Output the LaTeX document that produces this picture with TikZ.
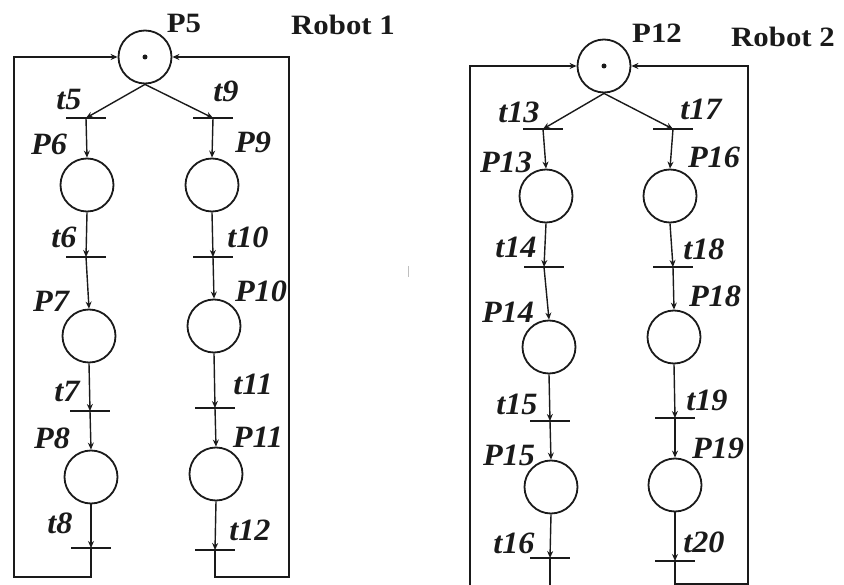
\documentclass[tikz,border=0pt]{standalone}
\usepackage{fontspec}
\newfontfamily\labfont{Liberation Serif}[FakeStretch=1.04]
\newfontfamily\headfont{Liberation Serif}[FakeStretch=1.1]
\usetikzlibrary{arrows.meta}
\definecolor{ink}{HTML}{1A1A1A}
\tikzset{
  place/.style={circle,draw=ink,line width=1.8pt,minimum size=53pt,inner sep=0pt},
  trans/.style={rectangle,fill=ink,minimum width=40pt,minimum height=2.4pt,inner sep=0pt},
  arc/.style={draw=ink,line width=1.4pt,-{Stealth[length=7pt,width=6pt]}},
  lab/.style={font=\labfont\bfseries\itshape\fontsize{31}{31}\selectfont,text=ink,inner sep=0pt,anchor=base},
  head/.style={font=\headfont\bfseries\fontsize{28}{28}\selectfont,text=ink,inner sep=0pt,anchor=base},
  tok/.style={circle,fill=ink,minimum size=5pt,inner sep=0pt}
}
\begin{document}
\begin{tikzpicture}[x=1pt,y=-1pt]
\useasboundingbox (0,0) rectangle (844,585);
% ---------- Robot 1 ----------
\node[place] (P5) at (145,57) {};
\node[tok] (k5) at (P5.center) {};
\node[trans] (t5) at (86,118) {};
\node[trans] (t9) at (213,118) {};
\node[place] (P6) at (87,185) {};
\node[place] (P9) at (212,185) {};
\node[trans] (t6) at (86,257) {};
\node[trans] (t10) at (213,257) {};
\node[place] (P7) at (89,336) {};
\node[place] (P10) at (214,326) {};
\node[trans] (t7) at (90,411) {};
\node[trans] (t11) at (215,408) {};
\node[place] (P8) at (91,477) {};
\node[place] (P11) at (216,474) {};
\node[trans] (t8) at (91,548) {};
\node[trans] (t12) at (215,550) {};
\coordinate (A1) at (14,577);
\coordinate (A2) at (289,577);

\draw[arc] (P5.south) -- (t5.center);
\draw[arc] (P5.south) -- (t9.center);
\draw[arc] (t5.center) -- (P6.north);
\draw[arc] (t9.center) -- (P9.north);
\draw[arc] (P6.south) -- (t6.center);
\draw[arc] (P9.south) -- (t10.center);
\draw[arc] (t6.center) -- (P7.north);
\draw[arc] (t10.center) -- (P10.north);
\draw[arc] (P7.south) -- (t7.center);
\draw[arc] (P10.south) -- (t11.center);
\draw[arc] (t7.center) -- (P8.north);
\draw[arc] (t11.center) -- (P11.north);
\draw[arc] (P8.south) -- (t8.center);
\draw[arc] (P11.south) -- (t12.center);
\draw[arc] (t8.center) |- (A1) |- (P5.west);
\draw[arc] (t12.center) |- (A2) |- (P5.east);

\node[head] (lP5) at (184,33) {P5};
\node[head] (r1) at (343,35) {Robot 1};
\node[lab] (lt5) at (69,110) {t5};
\node[lab] (lt9) at (226,102) {t9};
\node[lab] (lP6) at (49,155) {P6};
\node[lab] (lP9) at (253,153) {P9};
\node[lab] (lt6) at (64,248) {t6};
\node[lab] (lt10) at (248,248) {t10};
\node[lab] (lP7) at (51,312) {P7};
\node[lab] (lP10) at (261,302) {P10};
\node[lab] (lt7) at (67,402) {t7};
\node[lab] (lt11) at (253,395) {t11};
\node[lab] (lP8) at (52,448) {P8};
\node[lab] (lP11) at (258,447) {P11};
\node[lab] (lt8) at (60,533) {t8};
\node[lab] (lt12) at (250,540) {t12};

% ---------- Robot 2 ----------
\node[place] (P12) at (604,66) {};
\node[tok] (k12) at (P12.center) {};
\node[trans] (t13) at (543,129) {};
\node[trans] (t17) at (673,129) {};
\node[place] (P13) at (546,196) {};
\node[place] (P16) at (670,196) {};
\node[trans] (t14) at (544,267) {};
\node[trans] (t18) at (673,267) {};
\node[place] (P14) at (549,347) {};
\node[place] (P18) at (674,337) {};
\node[trans] (t15) at (550,421) {};
\node[trans] (t19) at (675,418) {};
\node[place] (P15) at (551,487) {};
\node[place] (P19) at (675,485) {};
\node[trans] (t16) at (550,558) {};
\node[trans] (t20) at (675,561) {};
\coordinate (B1) at (470,587);
\coordinate (B2) at (748,584);

\draw[arc] (P12.south) -- (t13.center);
\draw[arc] (P12.south) -- (t17.center);
\draw[arc] (t13.center) -- (P13.north);
\draw[arc] (t17.center) -- (P16.north);
\draw[arc] (P13.south) -- (t14.center);
\draw[arc] (P16.south) -- (t18.center);
\draw[arc] (t14.center) -- (P14.north);
\draw[arc] (t18.center) -- (P18.north);
\draw[arc] (P14.south) -- (t15.center);
\draw[arc] (P18.south) -- (t19.center);
\draw[arc] (t15.center) -- (P15.north);
\draw[arc] (t19.center) -- (P19.north);
\draw[arc] (P15.south) -- (t16.center);
\draw[arc] (P19.south) -- (t20.center);
\draw[arc] (t16.center) |- (B1) |- (P12.west);
\draw[arc] (t20.center) |- (B2) |- (P12.east);

\node[head] (lP12) at (657,43) {P12};
\node[head] (r2) at (783,47) {Robot 2};
\node[lab] (lt13) at (519,123) {t13};
\node[lab] (lt17) at (701,120) {t17};
\node[lab] (lP13) at (506,173) {P13};
\node[lab] (lP16) at (714,168) {P16};
\node[lab] (lt14) at (516,258) {t14};
\node[lab] (lt18) at (704,260) {t18};
\node[lab] (lP14) at (508,323) {P14};
\node[lab] (lP18) at (715,307) {P18};
\node[lab] (lt15) at (517,415) {t15};
\node[lab] (lt19) at (707,410) {t19};
\node[lab] (lP15) at (509,465) {P15};
\node[lab] (lP19) at (718,458) {P19};
\node[lab] (lt16) at (514,553) {t16};
\node[lab] (lt20) at (704,552) {t20};

% small stray mark
\coordinate (m1) at (408,266);
\coordinate (m2) at (408,277);
\draw[gray!50,line width=1pt] (m1) -- (m2);
\end{tikzpicture}
\end{document}
